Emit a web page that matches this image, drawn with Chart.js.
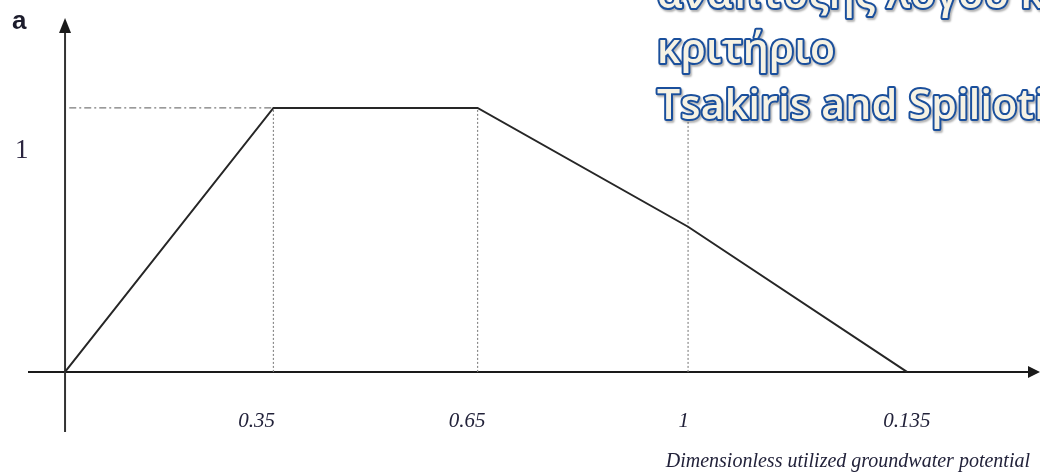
<!DOCTYPE html>
<html>
<head>
<meta charset="utf-8">
<script src="https://cdn.jsdelivr.net/npm/chart.js@4.4.1/dist/chart.umd.min.js"></script>
<style>
  html, body { margin: 0; padding: 0; background: #fff; }
  #wrap { width: 1040px; height: 473px; position: relative; }
</style>
</head>
<body>
<div id="wrap"><canvas id="chart"></canvas></div>
<script>
// trapezoid break points (positions as drawn on the axis)
const xPos = [0, 0.99, 1.96, 2.96, 4];
const xTickLabels = ['', '0.35', '0.65', '1', '0.135'];
const xLabelPos = [0, 0.91, 1.91, 2.94, 4.0];
const membership = [0, 1, 1, 0.55, 0];

// dotted guides dropped from the curve to the x axis
const guideX = [0.99, 1.96, 2.96];
const guideTop = [1, 1, 0.95];

const yLabelText = '1';
const yLabelAt = 0.85;
const xTitle = 'Dimensionless utilized groundwater potential';
const noteLines = ['ανάπτυξης λόγου κ', 'κριτήριο', 'Tsakiris and Spilioti'];

// axes with arrows, tick labels and the overlaid note
const drawFigure = {
  id: 'drawFigure',
  beforeDatasetsDraw(chart) {
    const { ctx, scales: { x, y } } = chart;
    const x0 = x.getPixelForValue(0);
    const y0 = y.getPixelForValue(0);
    ctx.save();
    ctx.strokeStyle = '#1a1a1a';
    ctx.fillStyle = '#1a1a1a';
    ctx.lineWidth = 2;
    // x axis
    ctx.beginPath();
    ctx.moveTo(28, y0);
    ctx.lineTo(1030, y0);
    ctx.stroke();
    ctx.beginPath();
    ctx.moveTo(1040, y0);
    ctx.lineTo(1028, y0 - 6);
    ctx.lineTo(1028, y0 + 6);
    ctx.closePath();
    ctx.fill();
    // y axis
    ctx.strokeStyle = '#333';
    ctx.beginPath();
    ctx.moveTo(x0, y0 + 60);
    ctx.lineTo(x0, 30);
    ctx.stroke();
    ctx.beginPath();
    ctx.moveTo(x0, 18);
    ctx.lineTo(x0 - 6, 33);
    ctx.lineTo(x0 + 6, 33);
    ctx.closePath();
    ctx.fill();
    ctx.restore();
  },
  afterDatasetsDraw(chart) {
    const { ctx, scales: { x, y } } = chart;
    const y0 = y.getPixelForValue(0);
    ctx.save();
    // x tick labels
    ctx.fillStyle = '#22223a';
    ctx.font = 'italic 21px "Liberation Serif"';
    ctx.textAlign = 'center';
    ctx.textBaseline = 'alphabetic';
    xLabelPos.forEach((v, i) => {
      if (xTickLabels[i]) ctx.fillText(xTickLabels[i], x.getPixelForValue(v), y0 + 55);
    });
    // axis title
    ctx.textAlign = 'right';
    ctx.font = 'italic 20px "Liberation Serif"';
    ctx.fillText(xTitle, 1030, 467);
    // y labels
    ctx.textAlign = 'left';
    ctx.fillStyle = '#2b2540';
    ctx.font = '27px "Liberation Serif"';
    ctx.fillText(yLabelText, 15, y.getPixelForValue(yLabelAt) + 10);
    ctx.fillStyle = '#1c1c2c';
    ctx.font = 'bold 26px "Liberation Sans"';
    ctx.fillText('a', 12, 29);
    // note in outlined letters
    ctx.font = '600 41px "Open Sans"';
    ctx.letterSpacing = '0.3px';
    ctx.lineJoin = 'round';
    const baselines = [8, 63, 119];
    noteLines.forEach((t, i) => {
      ctx.shadowColor = 'rgba(0,0,0,0.3)';
      ctx.shadowOffsetX = 1.5;
      ctx.shadowOffsetY = 1.5;
      ctx.shadowBlur = 2;
      ctx.lineWidth = 4;
      ctx.strokeStyle = '#1a4f9c';
      ctx.strokeText(t, 657, baselines[i]);
      ctx.shadowColor = 'transparent';
      ctx.fillStyle = '#f6f2e4';
      ctx.fillText(t, 657, baselines[i]);
    });
    ctx.restore();
  }
};

const datasets = [
  {
    data: xPos.map((v, i) => ({ x: v, y: membership[i] })),
    borderColor: '#262626',
    borderWidth: 2,
  },
  {
    data: [{ x: 0.02, y: 1 }, { x: xPos[1], y: 1 }],
    borderColor: '#7a7a7a',
    borderWidth: 1.3,
    borderDash: [7, 3, 2, 3],
  },
  ...guideX.map((g, i) => ({
    data: [{ x: g, y: 0 }, { x: g, y: guideTop[i] }],
    borderColor: '#8a8a8a',
    borderWidth: 1.2,
    borderDash: [2, 2],
  })),
];

new Chart(document.getElementById('chart'), {
  type: 'line',
  data: { datasets: datasets },
  options: {
    responsive: true,
    maintainAspectRatio: false,
    animation: false,
    layout: { padding: 0 },
    elements: { point: { radius: 0 }, line: { tension: 0 } },
    plugins: { legend: { display: false }, tooltip: { enabled: false } },
    scales: {
      x: { type: 'linear', min: -0.309, max: 4.632, display: false },
      y: { type: 'linear', min: -0.383, max: 1.409, display: false },
    },
  },
  plugins: [drawFigure],
});
</script>
</body>
</html>
